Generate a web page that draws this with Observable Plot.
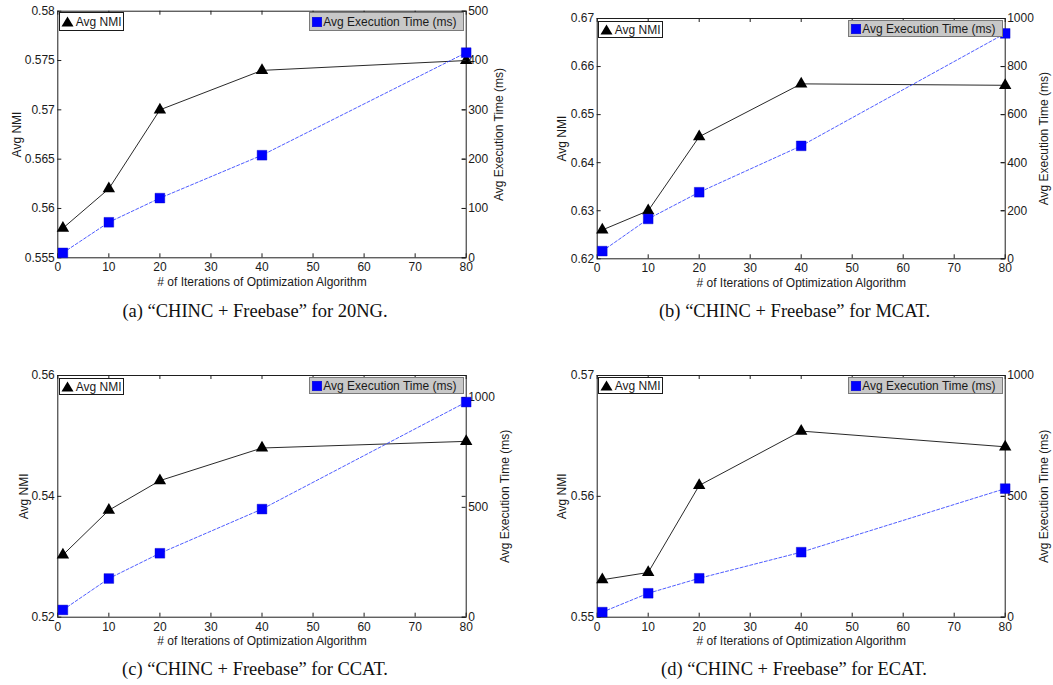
<!DOCTYPE html>
<html>
<head>
<meta charset="utf-8">
<script src="https://cdn.jsdelivr.net/npm/d3@7"></script>
<script src="https://cdn.jsdelivr.net/npm/@observablehq/plot@0.6"></script>
<style>
  body { margin: 0; background: #fff; }
  #root { position: relative; width: 1053px; height: 685px; overflow: hidden; background: #fff;
          font-family: "Liberation Sans", Arial, sans-serif; color: #1a1a1a; }
  .panel { position: absolute; width: 523px; height: 300px; }
  .panel svg { position: absolute; left: 0; top: 0; overflow: visible; }
  .caption { position: absolute; width: 500px; text-align: center; white-space: nowrap;
             font-family: "Liberation Serif", "Times New Roman", serif; font-size: 18.5px; line-height: 20px; color: #111; }
  .leg { position: absolute; box-sizing: border-box; display: flex; align-items: center; white-space: nowrap;
         font-size: 12px; line-height: 12px; color: #1a1a1a; }
  .leg.nmi { background: #fff; border: 1px solid #1a1a1a; padding-left: 1px; }
  .leg.time { background: #c8c8c8; border: 1px solid #7a7a7a; padding-left: 1.5px; }
  .leg svg { flex: none; margin-right: 1.5px; }
</style>
</head>
<body>
<div id="root"></div>
<script>
// ---------- data ----------
const iterations = [1, 10, 20, 40, 80];
const xTicks = [0, 10, 20, 30, 40, 50, 60, 70, 80];

const nmi20NG  = [0.558, 0.562, 0.570, 0.574, 0.575];
const time20NG = [10, 72, 121, 208, 416];
const nmiMCAT  = [0.626, 0.630, 0.6454, 0.6564, 0.6561];
const timeMCAT = [32, 166, 277, 470, 938];
const nmiCCAT  = [0.5303, 0.5377, 0.5426, 0.5480, 0.5491];
const timeCCAT = [33, 176, 291, 492, 979];
const nmiECAT  = [0.5531, 0.5537, 0.5609, 0.5654, 0.5641];
const timeECAT = [21, 99, 161, 269, 532];

const nmiTicks20NG = [0.555, 0.56, 0.565, 0.57, 0.575, 0.58];
const nmiTicksMCAT = [0.62, 0.63, 0.64, 0.65, 0.66, 0.67];
const nmiTicksCCAT = [0.52, 0.54, 0.56];
const nmiTicksECAT = [0.55, 0.56, 0.57];
const timeTicks20NG = [0, 100, 200, 300, 400, 500];
const timeTicksMCAT = [0, 200, 400, 600, 800, 1000];
const timeTicksCCAT = [0, 500, 1000];
const timeTicksECAT = [0, 500, 1000];
const timeMax = [500, 1000, 1100, 1000];

const xLabel = "# of Iterations of Optimization Algorithm";
const nmiLabel = "Avg NMI";
const timeLabel = "Avg Execution Time (ms)";
const captions = [
  "(a) \u201CCHINC + Freebase\u201D for 20NG.",
  "(b) \u201CCHINC + Freebase\u201D for MCAT.",
  "(c) \u201CCHINC + Freebase\u201D for CCAT.",
  "(d) \u201CCHINC + Freebase\u201D for ECAT."
];

// ---------- layout (pixels) ----------
const layout = [
  {ox: 0,   oy: 0,   L: 57.3,  R: 465.7,  T: 10.7, B: 257.3, yDx: -40.6, rDx: 32.6, capX: 255, capBase: 317,
   legN: [59.3, 12, 64.4, 19], legT: [309.3, 12, 155, 19]},
  {ox: 530, oy: 0,   L: 596.7, R: 1004.7, T: 18,   B: 258.3, yDx: -34.7, rDx: 38.8, capX: 794.5, capBase: 317,
   legN: [598.3, 21, 64.4, 17], legT: [848.3, 20, 155, 17]},
  {ox: 0,   oy: 355, L: 57.3,  R: 465.7,  T: 375,  B: 616.7, yDx: -34,   rDx: 39.3, capX: 255, capBase: 675,
   legN: [59.3, 378, 64.4, 17], legT: [309.3, 377, 155, 17]},
  {ox: 530, oy: 355, L: 596.7, R: 1004.7, T: 375,  B: 616.7, yDx: -34.7, rDx: 38.8, capX: 794, capBase: 675,
   legN: [598.3, 377.3, 64.4, 17], legT: [848.3, 377, 155, 17]}
];

const series = [
  {nmi: nmi20NG, time: time20NG, nmiTicks: nmiTicks20NG, timeTicks: timeTicks20NG},
  {nmi: nmiMCAT, time: timeMCAT, nmiTicks: nmiTicksMCAT, timeTicks: timeTicksMCAT},
  {nmi: nmiCCAT, time: timeCCAT, nmiTicks: nmiTicksCCAT, timeTicks: timeTicksCCAT},
  {nmi: nmiECAT, time: timeECAT, nmiTicks: nmiTicksECAT, timeTicks: timeTicksECAT}
];

const AXIS = "#1e1e1e";
const FS = 12;
const root = document.getElementById("root");

series.forEach((s, k) => {
  const p = layout[k];
  const W = 523, H = 300;
  const mL = p.L - p.ox, mR = p.ox + W - p.R, mT = p.T - p.oy, mB = p.oy + H - p.B;
  const innerW = p.R - p.L, innerH = p.B - p.T;
  const nmiRows = iterations.map((x, i) => ({x, v: s.nmi[i]}));
  const timeRows = iterations.map((x, i) => ({x, v: s.time[i]}));
  const common = {
    width: W, height: H, marginLeft: mL, marginRight: mR, marginTop: mT, marginBottom: mB,
    style: {fontFamily: "Liberation Sans, Arial, sans-serif", fontSize: "12px", color: "#1a1a1a", background: "transparent", overflow: "visible"}
  };
  const nmiDomain = [s.nmiTicks[0], s.nmiTicks[s.nmiTicks.length - 1]];

  const leftPlot = Plot.plot({
    ...common,
    x: {domain: [0, 80]},
    y: {domain: nmiDomain},
    marks: [
      Plot.frame({stroke: AXIS, strokeWidth: 1}),
      Plot.tickX(xTicks, {x: d => d, insetTop: innerH - 4, stroke: AXIS}),
      Plot.tickX(xTicks, {x: d => d, insetBottom: innerH - 4, stroke: AXIS}),
      Plot.tickY(s.nmiTicks, {y: d => d, insetRight: innerW - 4, stroke: AXIS}),
      Plot.tickY(s.nmiTicks, {y: d => d, insetLeft: innerW - 4, stroke: AXIS}),
      Plot.axisX({ticks: xTicks, tickSize: 0, tickPadding: 5, fontSize: FS, label: null, tickFormat: d => String(d)}),
      Plot.axisY({ticks: s.nmiTicks, tickSize: 0, tickPadding: 3, fontSize: FS, label: null, tickFormat: d => String(+d.toFixed(4))}),
      Plot.text([xLabel], {frameAnchor: "bottom", dy: 24, lineAnchor: "middle", textAnchor: "middle", fontSize: FS, text: d => d}),
      Plot.text([nmiLabel], {frameAnchor: "left", dx: p.yDx, rotate: -90, lineAnchor: "middle", textAnchor: "middle", fontSize: FS, text: d => d}),
      Plot.line(nmiRows, {x: "x", y: "v", stroke: "#111", strokeWidth: 0.9}),
      Plot.dot(nmiRows, {x: "x", y: "v", symbol: "triangle", r: 4.6, fill: "#000"})
    ]
  });

  const rightPlot = Plot.plot({
    ...common,
    x: {domain: [0, 80], axis: null},
    y: {domain: [0, timeMax[k]]},
    marks: [
      Plot.tickY(s.timeTicks, {y: d => d, insetLeft: innerW - 4, stroke: AXIS}),
      Plot.axisY({ticks: s.timeTicks, anchor: "right", tickSize: 0, tickPadding: 2, fontSize: FS, label: null, tickFormat: d => String(d)}),
      Plot.text([timeLabel], {frameAnchor: "right", dx: p.rDx, rotate: -90, lineAnchor: "middle", textAnchor: "middle", fontSize: FS, text: d => d}),
      Plot.line(timeRows, {x: "x", y: "v", stroke: "#2233ff", strokeWidth: 0.8, strokeDasharray: "3,2"}),
      Plot.dot(timeRows, {x: "x", y: "v", symbol: "square", r: 5.5, fill: "#0000ff", stroke: "#0000c0", strokeWidth: 0.4})
    ]
  });

  const div = document.createElement("div");
  div.className = "panel";
  div.style.left = p.ox + "px";
  div.style.top = p.oy + "px";
  div.appendChild(leftPlot);
  div.appendChild(rightPlot);
  root.appendChild(div);

  // legends
  const ln = document.createElement("div");
  ln.className = "leg nmi";
  Object.assign(ln.style, {left: p.legN[0] + "px", top: p.legN[1] + "px", width: p.legN[2] + "px", height: p.legN[3] + "px"});
  ln.innerHTML = '<svg width="13" height="11" viewBox="0 0 13 11"><path d="M6.5,0.5L12.5,10.5L0.5,10.5Z" fill="#000"/></svg><span>' + nmiLabel + '</span>';
  root.appendChild(ln);

  const lt = document.createElement("div");
  lt.className = "leg time";
  Object.assign(lt.style, {left: p.legT[0] + "px", top: p.legT[1] + "px", width: p.legT[2] + "px", height: p.legT[3] + "px"});
  lt.innerHTML = '<svg width="10" height="10" viewBox="0 0 10 10"><rect x="0.2" y="0.2" width="9.6" height="9.6" fill="#0000ff" stroke="#0000c0" stroke-width="0.4"/></svg><span>' + timeLabel + '</span>';
  root.appendChild(lt);

  // caption
  const cap = document.createElement("div");
  cap.className = "caption";
  cap.style.left = (p.capX - 250) + "px";
  cap.style.top = (p.capBase - 16.2) + "px";
  cap.textContent = captions[k];
  root.appendChild(cap);
});
</script>
</body>
</html>
